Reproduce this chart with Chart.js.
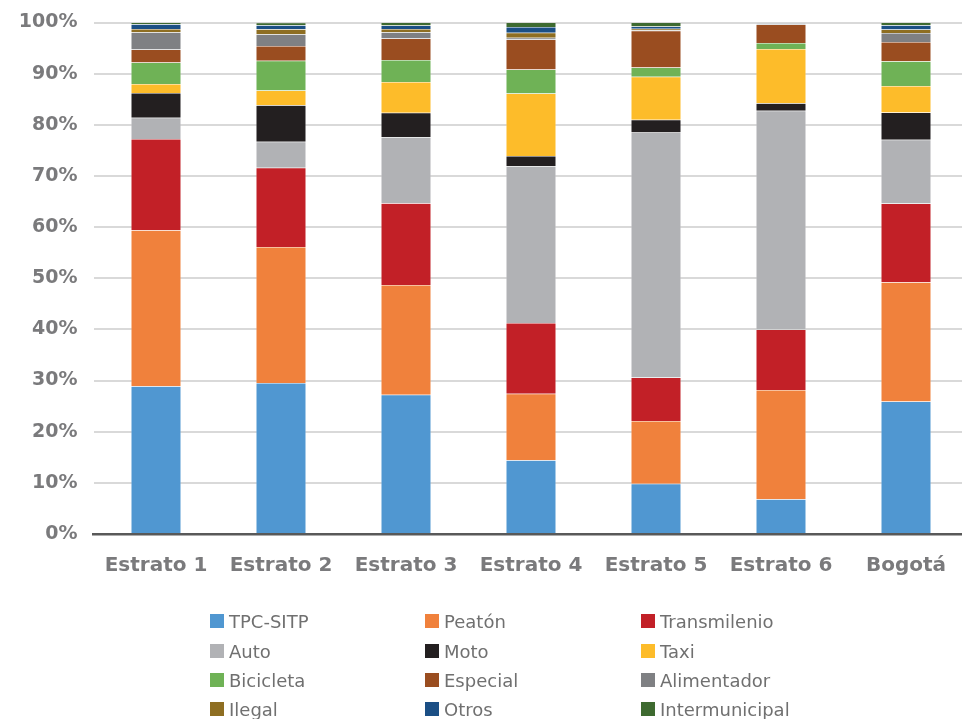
<!DOCTYPE html>
<html>
<head>
<meta charset="utf-8">
<script src="https://cdn.jsdelivr.net/npm/chart.js@4"></script>
<style>
  html, body { margin: 0; padding: 0; background: #ffffff; overflow: hidden; width: 962px; height: 719px; }
  #wrap { position: absolute; left: 0; top: 0; width: 980px; height: 600px; }
  #legend { position: absolute; left: 0; top: 0; width: 962px; height: 719px; pointer-events: none; }
  .li { position: absolute; display: flex; align-items: center; font-family: "DejaVu Sans", sans-serif; font-size: 18px; color: #707070; white-space: nowrap; height: 20px; }
  .sw { width: 14px; height: 14px; margin-right: 5px; flex: none; }
</style>
</head>
<body>
<div id="wrap"><canvas id="c" width="980" height="600"></canvas></div>
<div id="legend"></div>
<script>
const categories = ["Estrato 1", "Estrato 2", "Estrato 3", "Estrato 4", "Estrato 5", "Estrato 6", "Bogotá"];
const seriesNames = ["TPC-SITP", "Peatón", "Transmilenio", "Auto", "Moto", "Taxi", "Bicicleta", "Especial", "Alimentador", "Ilegal", "Otros", "Intermunicipal"];
const seriesColors = ["#5097D1", "#F0813C", "#C22027", "#B1B2B5", "#231F20", "#FDBC2A", "#6FB256", "#9A4D20", "#7F8083", "#8E6E22", "#1B4F85", "#3E6A30"];

const tpcSitp        = [28.9, 29.5, 27.2, 14.4,  9.8,  6.8, 25.9];
const peaton         = [30.5, 26.6, 21.5, 13.0, 12.3, 21.35, 23.3];
const transmilenio   = [17.8, 15.5, 15.95, 13.85, 8.5, 11.85, 15.4];
const auto           = [ 4.2,  5.1, 12.9, 30.65, 47.9, 42.75, 12.5];
const moto           = [ 4.8,  7.1,  4.8,  2.0,  2.5,  1.45,  5.3];
const taxi           = [ 1.8,  2.9,  6.0, 12.2,  8.4, 10.6,  5.2];
const bicicleta      = [ 4.2,  5.8,  4.3,  4.7,  1.8,  1.2,  4.8];
const especial       = [ 2.5,  2.9,  4.2,  5.9,  7.2,  3.6,  3.8];
const alimentador    = [ 3.4,  2.3,  1.25, 0.3,  0.1,  0.2,  1.75];
const ilegal         = [ 0.65, 1.0,  0.65, 1.0,  0.3,  0.05, 0.7];
const otros          = [ 0.9,  0.75, 0.65, 1.1,  0.4,  0.1,  0.8];
const intermunicipal = [ 0.35, 0.5,  0.6,  0.9,  0.8,  0.05, 0.55];

const yTicks = [0, 10, 20, 30, 40, 50, 60, 70, 80, 90, 100];

const seriesValues = [tpcSitp, peaton, transmilenio, auto, moto, taxi, bicicleta, especial, alimentador, ilegal, otros, intermunicipal];

const datasets = seriesNames.map((name, i) => ({
  label: name,
  data: seriesValues[i],
  backgroundColor: seriesColors[i],
  borderColor: 'rgba(255,255,255,0.3)',
  borderWidth: 0.5,
  barPercentage: 0.4,
  categoryPercentage: 1.0
}));

const tickColor = '#7a7a7c';

new Chart(document.getElementById('c'), {
  type: 'bar',
  data: { labels: categories, datasets },
  options: {
    responsive: false,
    animation: false,
    devicePixelRatio: 1,
    layout: { padding: { top: 22.5, right: 11.5, left: 0, bottom: 0 } },
    plugins: { legend: { display: false }, tooltip: { enabled: false } },
    scales: {
      x: {
        stacked: true,
        grid: { display: false },
        border: { display: true, color: '#595959', width: 2.5 },
        ticks: {
          color: tickColor,
          font: { family: 'DejaVu Sans', size: 20, weight: 'bold' },
          padding: 12,
          maxRotation: 0
        },
        afterFit: (s) => { s.height = 600 - 534; }
      },
      y: {
        stacked: true,
        min: 0,
        max: 100,
        afterBuildTicks: (s) => { s.ticks = yTicks.map(v => ({ value: v })); },
        grid: {
          color: (ctx) => ctx.tick && ctx.tick.value === 0 ? '#595959' : '#d9d9d9',
          lineWidth: 2,
          drawTicks: false
        },
        border: { display: false },
        ticks: {
          color: tickColor,
          font: { family: 'DejaVu Sans', size: 19, weight: 'bold' },
          padding: 16,
          callback: (v) => v + '%'
        },
        afterFit: (s) => { s.width = 93.5; s.paddingTop = 0; s.paddingBottom = 0; }
      }
    }
  }
});

// HTML legend in a 3-column grid, built from the series arrays
const legend = document.getElementById('legend');
const colX = [210, 425, 641];
const rowY = [621, 651, 680, 709];
seriesNames.forEach((name, i) => {
  const d = document.createElement('div');
  d.className = 'li';
  d.style.left = colX[i % 3] + 'px';
  d.style.top = (rowY[Math.floor(i / 3)] - 10) + 'px';
  const sw = document.createElement('span');
  sw.className = 'sw';
  sw.style.background = seriesColors[i];
  const t = document.createElement('span');
  t.textContent = name;
  d.appendChild(sw);
  d.appendChild(t);
  legend.appendChild(d);
});
</script>
</body>
</html>
